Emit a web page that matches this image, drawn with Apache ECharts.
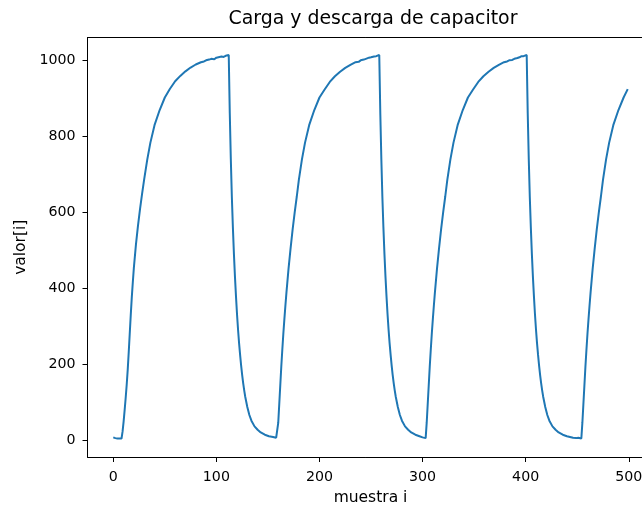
<!DOCTYPE html>
<html>
<head>
<meta charset="utf-8">
<script src="https://cdn.jsdelivr.net/npm/echarts@6/dist/echarts.min.js"></script>
<style>
html,body{margin:0;padding:0;background:#fff;}
#chart{width:642px;height:506px;}
</style>
</head>
<body>
<div id="chart"></div>
<script>
// sample index (muestra i) and reading (valor[i])
var muestra = [
  0,1,2,3,4,5,6,7,8,
  9,10,11,12,13,14,15,16,17,18,19,20,22,24,26,28,30,33,36,40,45,50,55,60,65,70,75,80,85,88,90,93,95,98,100,103,105,107,109,112,
  113,114,115,116,117,118,119,120,121,122,123,124,125,126,127,128,130,132,134,137,140,143,147,151,155,158,159,
  160,161,162,163,164,165,166,167,168,170,172,174,176,178,180,183,186,190,195,200,205,210,215,220,225,230,235,238,240,243,245,248,250,253,255,258,
  259,260,261,262,263,264,265,266,267,268,269,270,271,272,273,274,276,278,280,283,286,289,293,297,300,303,
  304,305,306,307,308,309,310,311,312,314,316,318,320,322,324,327,330,334,339,344,349,354,359,364,369,374,379,382,384,387,389,392,394,396,398,401,
  402,403,404,405,406,407,408,409,410,411,412,413,414,415,416,417,419,421,423,426,429,432,436,440,443,446,449,451,454,
  455,456,457,458,459,460,461,462,463,465,467,469,471,473,475,478,481,485,490,495,499
];
var valor = [
  7,5,5,5,4,4,4,4,4,
  22,48,78,110,145,185,232,282,332,378,418,455,516,566,610,650,688,740,784,830,870,903,926,946,960,972,982,990,996,998,1001,1003,1005,1004,1008,1010,1011,1010,1013,1015,
  862,742,642,562,492,432,380,333,292,256,225,197,172,150,131,114,87,66,51,36,27,20,14,10,8,6,5,
  45,95,145,195,240,282,320,356,390,452,506,556,601,642,686,740,784,830,870,903,924,944,959,971,981,989,996,997,1001,1003,1005,1008,1009,1011,1012,1015,
  862,742,642,562,492,432,380,333,292,256,225,197,172,150,131,114,87,66,51,36,27,20,14,10,7,5,
  45,95,145,195,240,282,320,356,390,452,506,556,601,642,686,740,784,830,870,903,924,944,959,971,981,989,996,998,1001,1002,1005,1007,1009,1012,1012,1015,
  862,742,642,562,492,432,380,333,292,256,225,197,172,150,131,114,87,66,51,36,27,20,14,10,8,6,5,6,4,
  45,95,145,195,240,282,320,356,390,452,506,556,601,642,686,740,784,830,870,903,925
];
var xTicks = [0,100,200,300,400,500];
var yTicks = [0,200,400,600,800,1000];

var points = muestra.map(function(m, k){ return [m, valor[k]]; });

var chart = echarts.init(document.getElementById('chart'), null, {renderer:'canvas'});
var font = 'DejaVu Sans';
function plain(v){ return String(v); }
chart.setOption({
  animation: false,
  backgroundColor: '#ffffff',
  title: {
    text: 'Carga y descarga de capacitor',
    left: 368, top: 5, textAlign: 'center',
    textStyle: {fontFamily: font, fontSize: 18.9, fontWeight: 'normal', color: '#000'}
  },
  grid: {
    left: 87.5, top: 37.5, width: 566, height: 419.5,
    show: false,
    containLabel: false,
    outerBoundsMode: 'none'
  },
  xAxis: [{
    type: 'value', min: -25, max: 524,
    name: 'muestra i', nameLocation: 'middle', nameGap: 33,
    nameTextStyle: {fontFamily: font, fontSize: 15.5, color: '#000'},
    axisLine: {show: true, onZero: false, lineStyle: {color: '#000', width: 1}},
    axisTick: {show: true, length: 5, customValues: xTicks, lineStyle: {color: '#000', width: 1}},
    axisLabel: {customValues: xTicks, margin: 13, fontFamily: font, fontSize: 14.2, color: '#000', formatter: plain},
    splitLine: {show: false}
  }, {
    type: 'value', min: -25, max: 524, position: 'top',
    axisLine: {show: true, onZero: false, lineStyle: {color: '#000', width: 1}},
    axisTick: {show: false}, axisLabel: {show: false}, splitLine: {show: false}
  }],
  yAxis: {
    type: 'value', min: -44.8, max: 1061.2,
    name: 'valor[i]', nameLocation: 'middle', nameGap: 57, nameRotate: 90,
    nameTextStyle: {fontFamily: font, fontSize: 15.5, color: '#000'},
    axisLine: {show: true, onZero: false, lineStyle: {color: '#000', width: 1}},
    axisTick: {show: true, length: 5, customValues: yTicks, lineStyle: {color: '#000', width: 1}},
    axisLabel: {customValues: yTicks, margin: 12, fontFamily: font, fontSize: 14.2, color: '#000', formatter: plain},
    splitLine: {show: false}
  },
  series: [{
    type: 'line',
    xAxisIndex: 0,
    data: points,
    showSymbol: false,
    symbol: 'none',
    lineStyle: {color: '#1f77b4', width: 2},
    clip: true
  }]
});
</script>
</body>
</html>
